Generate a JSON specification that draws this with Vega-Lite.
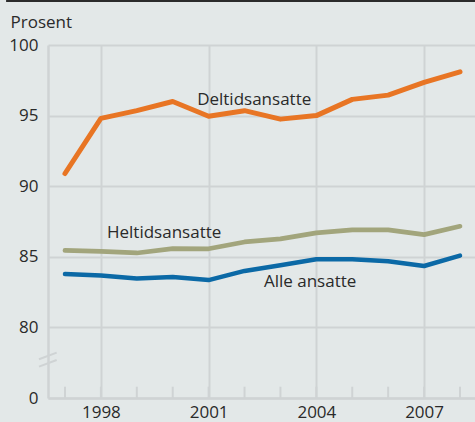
{
  "$schema": "https://vega.github.io/schema/vega-lite/v6.json",
  "width": 427,
  "height": 353,
  "autosize": {"type": "none"},
  "padding": {"top": 45, "left": 48, "right": 0, "bottom": 24},
  "background": "#e3e8e8",
  "config": {
    "view": {"stroke": null},
    "font": "Open Sans",
    "text": {"font": "Open Sans"},
    "axis": {"labelOverlap": false}
  },
  "datasets": {
    "lines": [
      {"year": 1997, "series": "Deltidsansatte", "value": 90.9},
      {"year": 1998, "series": "Deltidsansatte", "value": 94.8},
      {"year": 1999, "series": "Deltidsansatte", "value": 95.35},
      {"year": 2000, "series": "Deltidsansatte", "value": 96.0},
      {"year": 2001, "series": "Deltidsansatte", "value": 94.95},
      {"year": 2002, "series": "Deltidsansatte", "value": 95.35},
      {"year": 2003, "series": "Deltidsansatte", "value": 94.75},
      {"year": 2004, "series": "Deltidsansatte", "value": 95.0},
      {"year": 2005, "series": "Deltidsansatte", "value": 96.15},
      {"year": 2006, "series": "Deltidsansatte", "value": 96.45},
      {"year": 2007, "series": "Deltidsansatte", "value": 97.35},
      {"year": 2008, "series": "Deltidsansatte", "value": 98.1},
      {"year": 1997, "series": "Heltidsansatte", "value": 85.45},
      {"year": 1998, "series": "Heltidsansatte", "value": 85.38},
      {"year": 1999, "series": "Heltidsansatte", "value": 85.27},
      {"year": 2000, "series": "Heltidsansatte", "value": 85.58},
      {"year": 2001, "series": "Heltidsansatte", "value": 85.57},
      {"year": 2002, "series": "Heltidsansatte", "value": 86.05},
      {"year": 2003, "series": "Heltidsansatte", "value": 86.27},
      {"year": 2004, "series": "Heltidsansatte", "value": 86.7},
      {"year": 2005, "series": "Heltidsansatte", "value": 86.9},
      {"year": 2006, "series": "Heltidsansatte", "value": 86.9},
      {"year": 2007, "series": "Heltidsansatte", "value": 86.57},
      {"year": 2008, "series": "Heltidsansatte", "value": 87.16},
      {"year": 1997, "series": "Alle ansatte", "value": 83.78},
      {"year": 1998, "series": "Alle ansatte", "value": 83.67},
      {"year": 1999, "series": "Alle ansatte", "value": 83.47},
      {"year": 2000, "series": "Alle ansatte", "value": 83.57},
      {"year": 2001, "series": "Alle ansatte", "value": 83.35},
      {"year": 2002, "series": "Alle ansatte", "value": 84.0},
      {"year": 2003, "series": "Alle ansatte", "value": 84.4},
      {"year": 2004, "series": "Alle ansatte", "value": 84.82},
      {"year": 2005, "series": "Alle ansatte", "value": 84.82},
      {"year": 2006, "series": "Alle ansatte", "value": 84.68},
      {"year": 2007, "series": "Alle ansatte", "value": 84.35},
      {"year": 2008, "series": "Alle ansatte", "value": 85.08}
    ],
    "ticks": [
      {"year": 1997}, {"year": 1998}, {"year": 1999}, {"year": 2000},
      {"year": 2001}, {"year": 2002}, {"year": 2003}, {"year": 2004},
      {"year": 2005}, {"year": 2006}, {"year": 2007}, {"year": 2008}
    ]
  },
  "layer": [
    {
      "data": {"name": "lines"},
      "mark": {"type": "line", "strokeCap": "round", "strokeJoin": "round"},
      "encoding": {
        "x": {
          "field": "year",
          "type": "quantitative",
          "scale": {"domain": [1996.527, 2008.418], "nice": false, "zero": false},
          "axis": {
            "title": null,
            "values": [1998, 2001, 2004, 2007],
            "format": "d",
            "labelFont": "Open Sans",
            "labelFontSize": 17,
            "labelColor": "#2a2a2a",
            "labelPadding": 6,
            "labelFlush": false,
            "labelOverlap": false,
            "ticks": false,
            "domainColor": "#cfd3d4",
            "domainWidth": 2.5,
            "grid": true,
            "gridColor": "#cfd3d4",
            "gridWidth": 2
          }
        },
        "y": {
          "field": "value",
          "type": "quantitative",
          "scale": {"domain": [75, 100], "nice": false, "zero": false},
          "axis": {
            "title": "Prosent",
            "titleAngle": 0,
            "titleAlign": "left",
            "titleBaseline": "alphabetic",
            "titleX": -38,
            "titleY": -18,
            "titleFont": "Open Sans",
            "titleFontSize": 17,
            "titleFontWeight": "normal",
            "titleColor": "#2a2a2a",
            "values": [75, 80, 85, 90, 95, 100],
            "labelExpr": "datum.value === 75 ? '0' : datum.label",
            "labelFont": "Open Sans",
            "labelFontSize": 17,
            "labelColor": "#2a2a2a",
            "labelPadding": 10,
            "labelFlush": false,
            "ticks": false,
            "domainColor": "#cfd3d4",
            "domainWidth": 2.5,
            "grid": true,
            "gridColor": "#cfd3d4",
            "gridWidth": 2
          }
        },
        "color": {
          "field": "series",
          "type": "nominal",
          "scale": {"domain": ["Deltidsansatte", "Heltidsansatte", "Alle ansatte"], "range": ["#e87524", "#a2a57c", "#0b69a6"]},
          "legend": null
        },
        "strokeWidth": {
          "field": "series",
          "type": "nominal",
          "scale": {"domain": ["Deltidsansatte", "Heltidsansatte", "Alle ansatte"], "range": [5, 4.5, 4.5]},
          "legend": null
        }
      }
    },
    {
      "data": {"name": "ticks"},
      "mark": {"type": "rule", "color": "#cfd3d4", "strokeWidth": 2},
      "encoding": {
        "x": {"field": "year", "type": "quantitative"},
        "y": {"datum": 75, "type": "quantitative"},
        "y2": {"datum": 75.8}
      }
    },
    {
      "data": {"values": [{}]},
      "mark": {"type": "rule", "color": "#cfd3d4", "strokeWidth": 2},
      "encoding": {
        "x": {"datum": 1996.276, "type": "quantitative"},
        "x2": {"datum": 1996.769},
        "y": {"datum": 77.74, "type": "quantitative"},
        "y2": {"datum": 78.21}
      }
    },
    {
      "data": {"values": [{}]},
      "mark": {"type": "rule", "color": "#cfd3d4", "strokeWidth": 2},
      "encoding": {
        "x": {"datum": 1996.276, "type": "quantitative"},
        "x2": {"datum": 1996.769},
        "y": {"datum": 77.22, "type": "quantitative"},
        "y2": {"datum": 77.69}
      }
    },
    {
      "data": {"values": [{}]},
      "mark": {"type": "rule", "color": "#2b2b2b", "strokeWidth": 2},
      "encoding": {
        "x": {"datum": 1995.36, "type": "quantitative"},
        "x2": {"datum": 2008.418},
        "y": {"datum": 103.12, "type": "quantitative"}
      }
    },
    {
      "data": {"values": [{}]},
      "mark": {"type": "text", "align": "left", "baseline": "middle", "fontSize": 17, "font": "Open Sans", "fill": "#2a2a2a"},
      "encoding": {
        "x": {"datum": 2000.68, "type": "quantitative"},
        "y": {"datum": 96.1, "type": "quantitative"},
        "text": {"value": "Deltidsansatte"}
      }
    },
    {
      "data": {"values": [{}]},
      "mark": {"type": "text", "align": "left", "baseline": "middle", "fontSize": 17, "font": "Open Sans", "fill": "#2a2a2a"},
      "encoding": {
        "x": {"datum": 1998.17, "type": "quantitative"},
        "y": {"datum": 86.69, "type": "quantitative"},
        "text": {"value": "Heltidsansatte"}
      }
    },
    {
      "data": {"values": [{}]},
      "mark": {"type": "text", "align": "left", "baseline": "middle", "fontSize": 17, "font": "Open Sans", "fill": "#2a2a2a"},
      "encoding": {
        "x": {"datum": 2002.54, "type": "quantitative"},
        "y": {"datum": 83.21, "type": "quantitative"},
        "text": {"value": "Alle ansatte"}
      }
    }
  ]
}
